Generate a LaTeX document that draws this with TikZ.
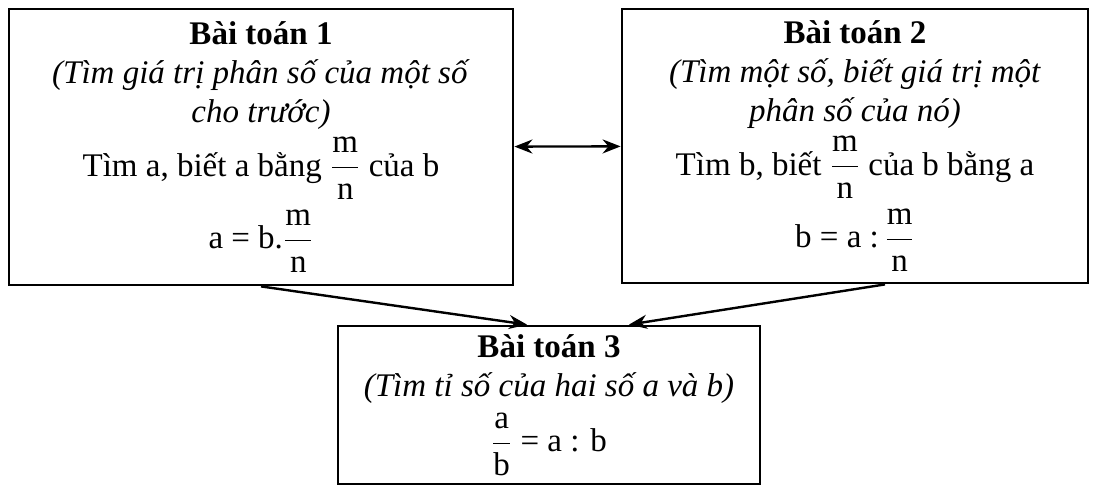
\documentclass[tikz,border=0pt]{standalone}
\usepackage{amsmath}
\usepackage{fontspec}
\setmainfont{Liberation Serif}
\usetikzlibrary{arrows.meta,positioning}

\newcommand{\mn}{\dfrac{\text{m}}{\text{n}}}

\begin{document}
\begin{tikzpicture}[x=0.5pt, y=-0.5pt,
    box/.style={draw, line width=1.4pt, align=center, inner sep=0pt,
        font=\fontsize{16.5}{19.5}\selectfont},
    arr/.style={line width=1.2pt, -{Stealth[length=9pt, width=7pt]}}]
    \useasboundingbox (0, 0) rectangle (1096, 488);
    % ba bai toan
    \node[box, minimum width=252pt, minimum height=138pt] (bt1) at (261, 147) {%
        \textbf{Bài toán 1}\\
        \textit{(Tìm giá trị phân số của một số}\\
        \textit{cho trước)}\\[3pt]
        Tìm a, biết a bằng $\mn$ của b\\[4pt]
        a = b.$\mn$};
    \node[box, minimum width=233pt, minimum height=137pt] (bt2) at (855, 146) {%
        \textbf{Bài toán 2}\\
        \textit{(Tìm một số, biết giá trị một}\\
        \textit{phân số của nó)}\\[3pt]
        Tìm b, biết $\mn$ của b bằng a\\[4pt]
        b = a :\,$\mn$};
    \node[box, minimum width=211pt, minimum height=79pt] (bt3) at (549, 405) {%
        \textbf{Bài toán 3}\\
        \textit{(Tìm tỉ số của hai số a và b)}\\[4pt]
        $\dfrac{\text{a}}{\text{b}}$ = a : b};
    % mui ten
    \draw[arr, {Stealth[length=9pt, width=7pt]}-{Stealth[length=9pt, width=7pt]}] (bt1) -- (bt2);
    \draw[arr] (bt1.south) -- ([xshift=-11pt]bt3.north);
    \draw[arr] ([xshift=15pt]bt2.south) -- ([xshift=40pt]bt3.north);
\end{tikzpicture}
\end{document}
